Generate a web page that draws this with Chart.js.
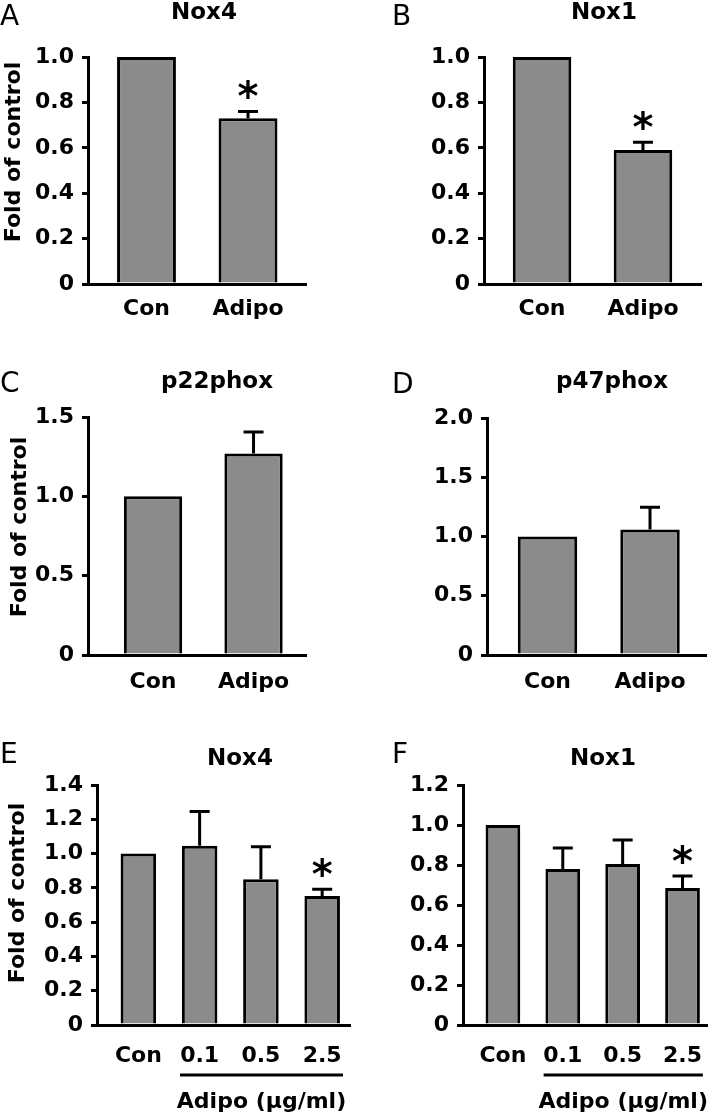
<!DOCTYPE html>
<html>
<head>
<meta charset="utf-8">
<script src="https://cdn.jsdelivr.net/npm/chart.js@4.4.0/dist/chart.umd.min.js"></script>
<style>
  html, body { margin: 0; padding: 0; background: #fff; }
  #page { position: relative; width: 720px; height: 1117px; overflow: hidden; }
  .panel { position: absolute; }
</style>
</head>
<body>
<div id="page"></div>
<script>
// ---- data ----
const TWO_GROUPS = ['Con', 'Adipo'];
const DOSE_GROUPS = ['Con', '0.1', '0.5', '2.5'];

// A: Nox4
const A_VALUES = [1.0, 0.73];
const A_ERRORS = [0, 0.03];
const A_SIGNIF = [false, true];
const A_TICKS = [0, 0.2, 0.4, 0.6, 0.8, 1.0];

// B: Nox1
const B_VALUES = [1.0, 0.59];
const B_ERRORS = [0, 0.035];
const B_SIGNIF = [false, true];
const B_TICKS = [0, 0.2, 0.4, 0.6, 0.8, 1.0];

// C: p22phox
const C_VALUES = [1.0, 1.27];
const C_ERRORS = [0, 0.135];
const C_SIGNIF = [false, false];
const C_TICKS = [0, 0.5, 1.0, 1.5];

// D: p47phox
const D_VALUES = [1.0, 1.06];
const D_ERRORS = [0, 0.186];
const D_SIGNIF = [false, false];
const D_TICKS = [0, 0.5, 1.0, 1.5, 2.0];

// E: Nox4 dose response
const E_VALUES = [1.0, 1.045, 0.85, 0.752];
const E_ERRORS = [0, 0.2, 0.19, 0.04];
const E_SIGNIF = [false, false, false, true];
const E_TICKS = [0, 0.2, 0.4, 0.6, 0.8, 1.0, 1.2, 1.4];

// F: Nox1 dose response
const F_VALUES = [1.0, 0.78, 0.805, 0.685];
const F_ERRORS = [0, 0.105, 0.12, 0.06];
const F_SIGNIF = [false, false, false, true];
const F_TICKS = [0, 0.2, 0.4, 0.6, 0.8, 1.0, 1.2];

const Y_TITLE = 'Fold of control';
const DOSE_LABEL = 'Adipo (μg/ml)';

// ---- styling ----
const FONT = '"DejaVu Sans", sans-serif';
const BAR_FILL = '#8b8b8b';

Chart.defaults.font.family = FONT;
Chart.defaults.font.size = 22;
Chart.defaults.font.weight = 'bold';
Chart.defaults.color = '#000';

// layout per panel (box = left, top, width, height of the canvas)
const PANELS = [
  { letter: 'A', title: 'Nox4', cats: TWO_GROUPS, values: A_VALUES, errors: A_ERRORS, signif: A_SIGNIF, ticks: A_TICKS,
    box: [0, 0, 360, 340], axisW: 88, pad: { top: 57, right: 54, bottom: 16 }, xRange: [-0.576, 1.571], tickPad: 12,
    letterPos: [0, 25], titlePos: [204, 19], yTitlePos: [20, 152] },
  { letter: 'B', title: 'Nox1', cats: TWO_GROUPS, values: B_VALUES, errors: B_ERRORS, signif: B_SIGNIF, ticks: B_TICKS,
    box: [360, 0, 360, 340], axisW: 124, pad: { top: 57, right: 19, bottom: 16 }, xRange: [-0.575, 1.575], tickPad: 12,
    letterPos: [32, 25], titlePos: [244, 19] },
  { letter: 'C', title: 'p22phox', cats: TWO_GROUPS, values: C_VALUES, errors: C_ERRORS, signif: C_SIGNIF, ticks: C_TICKS,
    box: [0, 360, 360, 360], axisW: 88, pad: { top: 57, right: 54, bottom: 25 }, xRange: [-0.647, 1.522], tickPad: 14,
    letterPos: [0, 32], titlePos: [217, 28], yTitlePos: [26, 167] },
  { letter: 'D', title: 'p47phox', cats: TWO_GROUPS, values: D_VALUES, errors: D_ERRORS, signif: D_SIGNIF, ticks: D_TICKS,
    box: [360, 360, 360, 360], axisW: 127, pad: { top: 58, right: 14, bottom: 25 }, xRange: [-0.59, 1.546], tickPad: 14,
    letterPos: [32, 33], titlePos: [252, 28] },
  { letter: 'E', title: 'Nox4', cats: DOSE_GROUPS, values: E_VALUES, errors: E_ERRORS, signif: E_SIGNIF, ticks: E_TICKS,
    box: [0, 720, 360, 397], axisW: 97, pad: { top: 65, right: 3, bottom: 52 }, xRange: [-0.675, 3.46], tickPad: 18,
    letterPos: [0, 43], titlePos: [240, 45], yTitlePos: [24, 173], group: { lineY: 355, textY: 388 } },
  { letter: 'F', title: 'Nox1', cats: DOSE_GROUPS, values: F_VALUES, errors: F_ERRORS, signif: F_SIGNIF, ticks: F_TICKS,
    box: [360, 720, 360, 397], axisW: 103, pad: { top: 65, right: 0, bottom: 52 }, xRange: [-0.667, 3.413], tickPad: 18,
    letterPos: [32, 43], titlePos: [243, 45], group: { lineY: 355, textY: 388 } }
];

// error bars, asterisks and panel text
function makeOverlay(p) {
  return {
    id: 'overlay',
    afterDatasetsDraw(chart) {
      const { ctx, scales: { x, y } } = chart;
      ctx.save();
      ctx.strokeStyle = '#000';
      ctx.lineWidth = 3;
      p.values.forEach((v, i) => {
        const px = x.getPixelForValue(i);
        const yTop = y.getPixelForValue(v + p.errors[i]);
        if (p.errors[i] > 0) {
          ctx.beginPath();
          ctx.moveTo(px, y.getPixelForValue(v));
          ctx.lineTo(px, yTop);
          ctx.moveTo(px - 10, yTop);
          ctx.lineTo(px + 10, yTop);
          ctx.stroke();
        }
        if (p.signif[i]) {
          ctx.fillStyle = '#000';
          ctx.font = 'bold 40px ' + FONT;
          ctx.textAlign = 'center';
          ctx.textBaseline = 'alphabetic';
          ctx.fillText('*', px, yTop - 1);
        }
      });
      ctx.restore();
    },
    afterDraw(chart) {
      const { ctx, scales: { x } } = chart;
      ctx.save();
      ctx.fillStyle = '#000';
      ctx.textBaseline = 'alphabetic';

      ctx.font = '28px ' + FONT;
      ctx.textAlign = 'left';
      ctx.fillText(p.letter, p.letterPos[0], p.letterPos[1]);

      ctx.font = 'bold 23px ' + FONT;
      ctx.textAlign = 'center';
      ctx.fillText(p.title, p.titlePos[0], p.titlePos[1]);

      if (p.yTitlePos) {
        ctx.save();
        ctx.translate(p.yTitlePos[0], p.yTitlePos[1]);
        ctx.rotate(-Math.PI / 2);
        ctx.font = 'bold 22px ' + FONT;
        ctx.fillText(Y_TITLE, 0, 0);
        ctx.restore();
      }

      if (p.group) {
        const x0 = x.getPixelForValue(1 - 0.32);
        const x1 = Math.min(x.getPixelForValue(p.cats.length - 1 + 0.34), chart.width);
        ctx.strokeStyle = '#000';
        ctx.lineWidth = 3;
        ctx.beginPath();
        ctx.moveTo(x0, p.group.lineY);
        ctx.lineTo(x1, p.group.lineY);
        ctx.stroke();
        ctx.font = 'bold 22px ' + FONT;
        ctx.fillText(DOSE_LABEL, (x0 + x1) / 2, p.group.textY);
      }
      ctx.restore();
    }
  };
}

function fmtTick(v) {
  return v === 0 ? '0' : v.toFixed(1);
}

const page = document.getElementById('page');

PANELS.forEach((p) => {
  const holder = document.createElement('div');
  holder.className = 'panel';
  holder.style.left = p.box[0] + 'px';
  holder.style.top = p.box[1] + 'px';
  holder.style.width = p.box[2] + 'px';
  holder.style.height = p.box[3] + 'px';
  const canvas = document.createElement('canvas');
  holder.appendChild(canvas);
  page.appendChild(holder);

  new Chart(canvas.getContext('2d'), {
    type: 'bar',
    data: {
      datasets: [{
        data: p.values.map((v, i) => ({ x: i, y: v })),
        backgroundColor: BAR_FILL,
        borderColor: '#000',
        borderWidth: 3,
        barPercentage: 0.58,
        categoryPercentage: 1
      }]
    },
    options: {
      responsive: true,
      maintainAspectRatio: false,
      animation: false,
      layout: { padding: { left: 0, top: p.pad.top, right: p.pad.right, bottom: p.pad.bottom } },
      plugins: {
        legend: { display: false },
        tooltip: { enabled: false }
      },
      scales: {
        x: {
          type: 'linear',
          offset: false,
          min: p.xRange[0],
          max: p.xRange[1],
          afterBuildTicks: (scale) => { scale.ticks = p.cats.map((_, i) => ({ value: i })); },
          afterFit: (scale) => { scale.height = 40; },
          grid: { display: false, drawTicks: false, offset: false },
          border: { display: true, color: '#000', width: 3 },
          ticks: {
            autoSkip: false,
            maxRotation: 0,
            padding: p.tickPad,
            color: '#000',
            callback: (value) => p.cats[Math.round(value)]
          }
        },
        y: {
          min: 0,
          max: p.ticks[p.ticks.length - 1],
          afterBuildTicks: (scale) => { scale.ticks = p.ticks.map(v => ({ value: v })); },
          afterFit: (scale) => { scale.width = p.axisW; },
          grid: { display: true, drawOnChartArea: false, drawTicks: true, tickLength: 6, lineWidth: 3, color: '#000' },
          border: { display: true, color: '#000', width: 3 },
          ticks: {
            padding: 8,
            color: '#000',
            callback: (value) => fmtTick(value)
          }
        }
      }
    },
    plugins: [makeOverlay(p)]
  });
});
</script>
</body>
</html>
